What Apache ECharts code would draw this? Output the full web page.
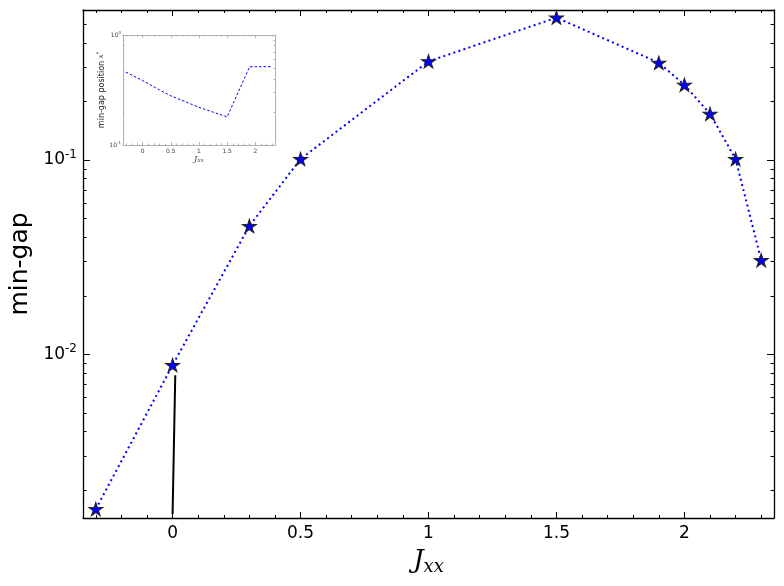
<!DOCTYPE html>
<html><head><meta charset="utf-8">
<script src="https://cdn.jsdelivr.net/npm/echarts@6/dist/echarts.min.js"></script>
<style>html,body{margin:0;padding:0;background:#fff}#c{width:784px;height:586px}</style>
</head><body><div id="c"></div>
<script>
// ---- data ----
const jxx = [-0.3, 0, 0.3, 0.5, 1, 1.5, 1.9, 2, 2.1, 2.2, 2.3];
const minGap = [0.0016, 0.0088, 0.0457, 0.101, 0.321, 0.539, 0.316, 0.243, 0.1725, 0.101, 0.0305];
const blackX = [0, 0.0105];
const blackY = [0.00151, 0.0078];
const insetPos = [0.46, 0.385, 0.316, 0.28, 0.22, 0.18, 0.515, 0.515, 0.515, 0.515, 0.515];
// ---- ticks ----
const xMajorTicks = [0, 0.5, 1, 1.5, 2];
const xMinorTicks = [-0.3, -0.2, -0.1, 0.1, 0.2, 0.3, 0.4, 0.6, 0.7, 0.8, 0.9, 1.1, 1.2, 1.3, 1.4, 1.6, 1.7, 1.8, 1.9, 2.1, 2.2, 2.3];
const yMajorTicks = [0.01, 0.1];
const yMinorTicks = [0.002, 0.003, 0.004, 0.005, 0.006, 0.007, 0.008, 0.009, 0.02, 0.03, 0.04, 0.05, 0.06, 0.07, 0.08, 0.09, 0.2, 0.3, 0.4, 0.5];
const insetYMajorTicks = [0.1, 1];
const insetYMinorTicks = [0.2, 0.3, 0.4, 0.5, 0.6, 0.7, 0.8, 0.9];
const xRange = [-0.35, 2.35];
const yRange = [0.00144, 0.59];
const insetYRange = [0.1, 1];

const FONT = 'DejaVu Sans';
function pow10Label(v) {
  const e = Math.round(Math.log10(v));
  return '{b|10}{s|' + e + '}';
}

function xAxisDef(grid, pos, ticks, len, o) {
  return Object.assign({
    gridIndex: grid, type: 'value', position: pos, min: xRange[0], max: xRange[1],
    axisLine: { show: false, onZero: false },
    axisTick: { show: true, inside: true, length: len, customValues: ticks, lineStyle: { color: o.color, width: 1 } },
    axisLabel: { show: false },
    splitLine: { show: false }
  }, o.extra || {});
}
function yAxisDef(grid, pos, range, ticks, len, o) {
  return Object.assign({
    gridIndex: grid, type: 'log', logBase: 10, position: pos, min: range[0], max: range[1],
    axisLine: { show: false, onZero: false },
    axisTick: { show: true, inside: true, length: len, customValues: ticks, lineStyle: { color: o.color, width: 1 } },
    axisLabel: { show: false },
    splitLine: { show: false }
  }, o.extra || {});
}

const mainLine = { show: true, onZero: false, lineStyle: { color: '#000', width: 1.3 } };
const insetLine = { show: true, onZero: false, lineStyle: { color: '#b0b0b0', width: 1 } };
const IC = '#b0b0b0';

const xAxes = [
  xAxisDef(0, 'bottom', xMajorTicks, 6, { color: '#000', extra: {
    axisLine: mainLine,
    axisLabel: { show: true, customValues: xMajorTicks, fontSize: 17, fontFamily: FONT, color: '#000', margin: 7, formatter: v => String(v) },
    name: '{j|J}{s|xx}', nameLocation: 'middle', nameGap: 28,
    nameTextStyle: { rich: {
      j: { fontFamily: 'DejaVu Serif', fontStyle: 'italic', fontSize: 26, color: '#000', lineHeight: 30 },
      s: { fontFamily: 'DejaVu Serif', fontStyle: 'italic', fontSize: 18, color: '#000', lineHeight: 14, verticalAlign: 'bottom' }
    } }
  } }),
  xAxisDef(0, 'bottom', xMinorTicks, 3, { color: '#000' }),
  xAxisDef(0, 'top', xMajorTicks, 6, { color: '#000', extra: { axisLine: mainLine } }),
  xAxisDef(0, 'top', xMinorTicks, 3, { color: '#000' }),
  xAxisDef(1, 'bottom', xMajorTicks, 3, { color: IC, extra: {
    axisLine: insetLine,
    axisLabel: { show: true, customValues: xMajorTicks, fontSize: 6, fontFamily: FONT, color: '#444', margin: 3, formatter: v => String(v) },
    name: '{j|J}{s|xx}', nameLocation: 'middle', nameGap: 8,
    nameTextStyle: { rich: {
      j: { fontFamily: 'DejaVu Serif', fontStyle: 'italic', fontSize: 8, color: '#444', lineHeight: 9 },
      s: { fontFamily: 'DejaVu Serif', fontStyle: 'italic', fontSize: 6, color: '#444', lineHeight: 5, verticalAlign: 'bottom' }
    } }
  } }),
  xAxisDef(1, 'bottom', xMinorTicks, 1.5, { color: IC }),
  xAxisDef(1, 'top', xMajorTicks, 3, { color: IC, extra: { axisLine: insetLine } }),
  xAxisDef(1, 'top', xMinorTicks, 1.5, { color: IC })
];

const yAxes = [
  yAxisDef(0, 'left', yRange, yMajorTicks, 7, { color: '#000', extra: {
    axisLine: mainLine,
    axisLabel: { show: true, customValues: yMajorTicks, margin: 6, formatter: pow10Label,
      rich: {
        b: { fontSize: 17, fontFamily: FONT, color: '#000', lineHeight: 22 },
        s: { fontSize: 12, fontFamily: FONT, color: '#000', lineHeight: 13, verticalAlign: 'top' }
      } },
    name: 'min-gap', nameLocation: 'middle', nameRotate: 90, nameGap: 47,
    nameTextStyle: { fontSize: 25, fontFamily: FONT, color: '#000' }
  } }),
  yAxisDef(0, 'left', yRange, yMinorTicks, 3.5, { color: '#000' }),
  yAxisDef(0, 'right', yRange, yMajorTicks, 7, { color: '#000', extra: { axisLine: mainLine } }),
  yAxisDef(0, 'right', yRange, yMinorTicks, 3.5, { color: '#000' }),
  yAxisDef(1, 'left', insetYRange, insetYMajorTicks, 3, { color: IC, extra: {
    axisLine: insetLine,
    axisLabel: { show: true, customValues: insetYMajorTicks, margin: 2, formatter: pow10Label,
      rich: {
        b: { fontSize: 6, fontFamily: FONT, color: '#444', lineHeight: 8 },
        s: { fontSize: 4, fontFamily: FONT, color: '#444', lineHeight: 4, verticalAlign: 'top' }
      } },
    name: '{a|min-gap position }{i|x}{s|*}', nameLocation: 'middle', nameRotate: 90, nameGap: 10,
    nameTextStyle: { rich: {
      a: { fontSize: 8, fontFamily: FONT, color: '#222', lineHeight: 10 },
      i: { fontSize: 7, fontFamily: 'DejaVu Serif', fontStyle: 'italic', color: '#222', lineHeight: 10 },
      s: { fontSize: 5, fontFamily: FONT, color: '#222', lineHeight: 5, verticalAlign: 'top' }
    } }
  } }),
  yAxisDef(1, 'left', insetYRange, insetYMinorTicks, 1.5, { color: IC }),
  yAxisDef(1, 'right', insetYRange, insetYMajorTicks, 3, { color: IC, extra: { axisLine: insetLine } }),
  yAxisDef(1, 'right', insetYRange, insetYMinorTicks, 1.5, { color: IC })
];

const starPath = 'path://M100,0 L122.45,69.1 L195.1,69.1 L136.3,111.8 L158.8,180.9 L100,138.2 L41.2,180.9 L63.7,111.8 L4.9,69.1 L77.55,69.1 Z';

const chart = echarts.init(document.getElementById('c'), null, { renderer: 'canvas' });
chart.setOption({
  animation: false,
  backgroundColor: '#fff',
  grid: [
    { left: 83, top: 10, width: 691, height: 508, containLabel: false, outerBoundsMode: 'none' },
    { left: 123, top: 35, width: 152, height: 110, containLabel: false, outerBoundsMode: 'none' }
  ],
  xAxis: xAxes,
  yAxis: yAxes,
  series: [
    {
      type: 'line', xAxisIndex: 0, yAxisIndex: 0,
      data: jxx.map((x, i) => [x, minGap[i]]),
      symbol: starPath, symbolSize: [14, 13.3],
      itemStyle: { color: '#0000ff', borderColor: '#222', borderWidth: 1 },
      lineStyle: { color: '#0000ff', width: 2, type: [2, 3.3] },
      z: 4
    },
    {
      type: 'line', xAxisIndex: 0, yAxisIndex: 0,
      data: blackX.map((x, i) => [x, blackY[i]]),
      symbol: 'none',
      lineStyle: { color: '#000', width: 2 },
      z: 3
    },
    {
      type: 'line', xAxisIndex: 4, yAxisIndex: 4,
      data: jxx.map((x, i) => [x, insetPos[i]]),
      symbol: 'none',
      lineStyle: { color: '#0000ff', width: 1, type: [2.5, 2] },
      z: 5
    }
  ]
});
</script>
</body></html>
